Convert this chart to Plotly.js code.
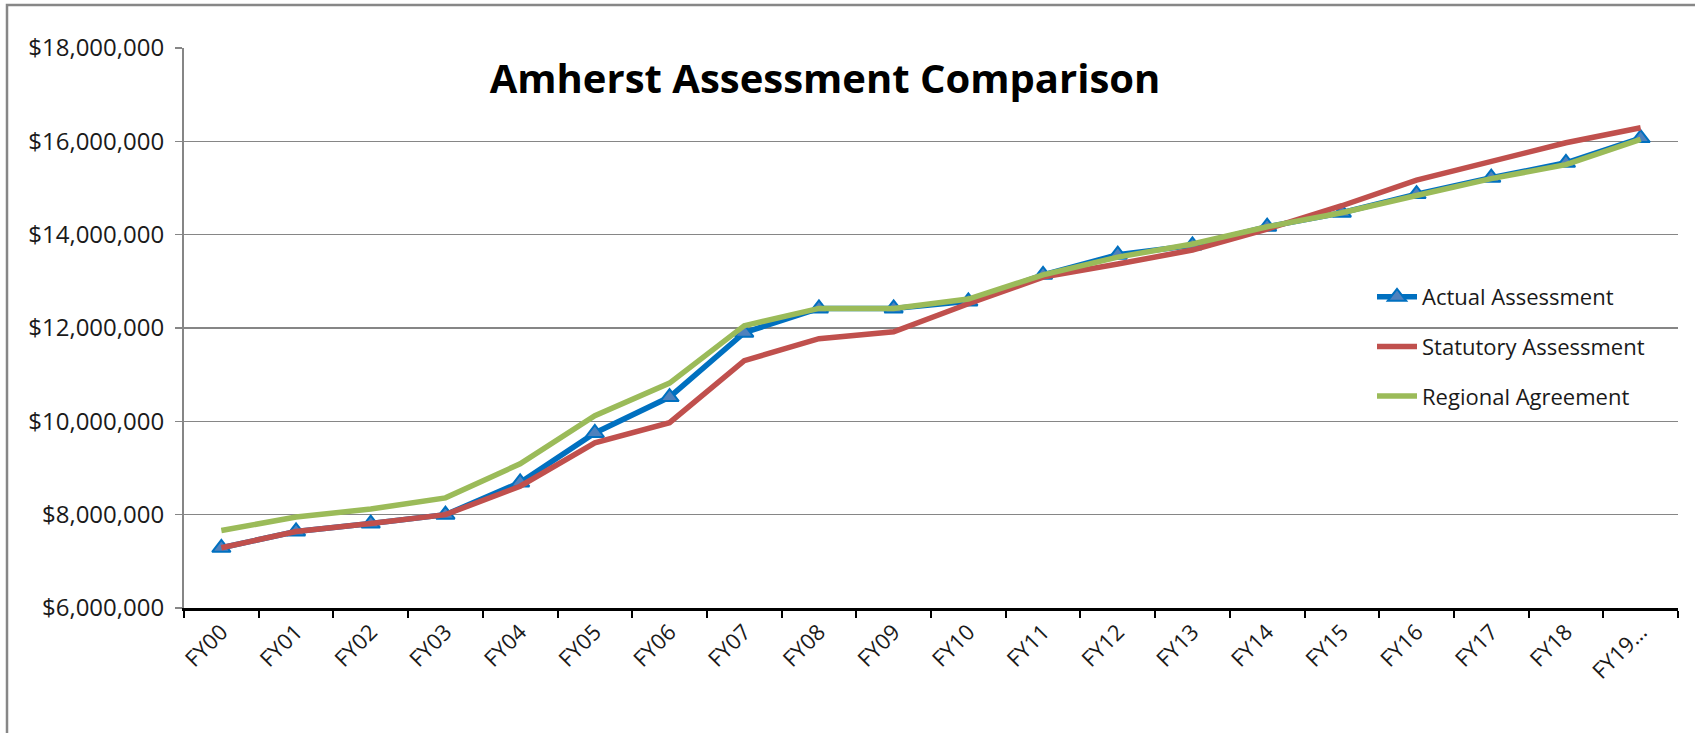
<!DOCTYPE html>
<html>
<head>
<meta charset="utf-8">
<script src="https://cdn.plot.ly/plotly-3.0.1.min.js"></script>
<style>
  html, body { margin: 0; padding: 0; background: #ffffff; }
  #chart { width: 1695px; height: 733px; }
</style>
</head>
<body>
<div id="chart"></div>
<script>
const categories = ["FY00","FY01","FY02","FY03","FY04","FY05","FY06","FY07","FY08","FY09",
                    "FY10","FY11","FY12","FY13","FY14","FY15","FY16","FY17","FY18","FY19…"];

const actualAssessment = [7290000, 7640000, 7810000, 8000000, 8690000, 9750000, 10520000, 11900000, 12420000, 12420000,
                          12570000, 13140000, 13570000, 13770000, 14170000, 14470000, 14870000, 15220000, 15540000, 16070000];

const statutoryAssessment = [7290000, 7640000, 7810000, 8000000, 8610000, 9540000, 9970000, 11300000, 11770000, 11920000,
                             12520000, 13090000, 13370000, 13670000, 14120000, 14620000, 15170000, 15570000, 15970000, 16290000];

const regionalAgreement = [7660000, 7950000, 8120000, 8360000, 9090000, 10120000, 10820000, 12050000, 12420000, 12420000,
                           12620000, 13140000, 13520000, 13800000, 14170000, 14470000, 14840000, 15200000, 15500000, 16040000];

const yTickVals = [6000000, 8000000, 10000000, 12000000, 14000000, 16000000, 18000000];
const yTickText = ["$6,000,000","$8,000,000","$10,000,000","$12,000,000","$14,000,000","$16,000,000","$18,000,000"];

const seriesNames = ["Actual Assessment", "Statutory Assessment", "Regional Agreement"];

const fontFamily = "'Open Sans', 'Liberation Sans', sans-serif";

// plot-area geometry (pixels)
const PL = 184, PR = 1678, PT = 48, PB = 608;
const PW = PR - PL, PH = PB - PT;

const traces = [
  {
    x: categories, y: actualAssessment, name: seriesNames[0], type: "scatter", mode: "lines+markers",
    line: { color: "#0070C0", width: 5.5 },
    marker: { symbol: "triangle-up", size: 16, color: "#4F81BD", line: { color: "#0070C0", width: 2 } },
    legendgroup: "a"
  },
  {
    x: categories, y: statutoryAssessment, name: seriesNames[1], type: "scatter", mode: "lines",
    line: { color: "#C0504D", width: 5.5 },
    legendgroup: "b"
  },
  {
    x: categories, y: regionalAgreement, name: seriesNames[2], type: "scatter", mode: "lines",
    line: { color: "#9BBB59", width: 5.5 },
    legendgroup: "c"
  }
];

const layout = {
  width: 1695, height: 733,
  margin: { l: PL, r: 1695 - PR, t: PT, b: 733 - PB, pad: 0, autoexpand: false },
  paper_bgcolor: "#ffffff", plot_bgcolor: "#ffffff",
  showlegend: true,
  font: { family: fontFamily, size: 22, color: "#1a1a1a" },
  title: {
    text: "<b>Amherst Assessment Comparison</b>",
    font: { family: fontFamily, size: 40, color: "#000000" },
    x: 825 / 1695, xanchor: "center", xref: "container",
    y: 1 - 79 / 733, yanchor: "middle", yref: "container"
  },
  xaxis: {
    type: "category",
    range: [-0.5, 19.5],
    tickson: "boundaries",
    ticks: "outside", ticklen: 7, tickwidth: 2, tickcolor: "#000000",
    showline: true, linecolor: "#000000", linewidth: 2.5,
    showgrid: false, zeroline: false,
    tickangle: -45,
    tickfont: { family: fontFamily, size: 22, color: "#1a1a1a" },
    automargin: false,
    fixedrange: true
  },
  yaxis: {
    range: [6000000, 18000000],
    tickvals: yTickVals, ticktext: yTickText,
    ticks: "outside", ticklen: 7, tickwidth: 1.5, tickcolor: "#868686",
    showline: true, linecolor: "#868686", linewidth: 2,
    showgrid: true, gridcolor: "#868686", gridwidth: 1.5,
    zeroline: false,
    ticklabelstandoff: 6,
    tickfont: { family: fontFamily, size: 24, color: "#1a1a1a" },
    automargin: false,
    fixedrange: true
  },
  legend: {
    x: (1372 - PL) / PW, xref: "paper", xanchor: "left",
    y: (PB - 276) / PH, yref: "paper", yanchor: "top",
    bgcolor: "rgba(0,0,0,0)",
    traceorder: "grouped",
    tracegroupgap: 18,
    font: { family: fontFamily, size: 22, color: "#1a1a1a" },
    itemwidth: 40
  },
  shapes: [
    {
      type: "rect", xref: "paper", yref: "paper",
      x0: (7 - PL) / PW, x1: (1705 - PL) / PW,
      y0: (PB - 745) / PH, y1: (PB - 5) / PH,
      line: { color: "#878787", width: 2.5 }, fillcolor: "rgba(0,0,0,0)", layer: "below"
    }
  ]
};

Plotly.newPlot("chart", traces, layout, { displayModeBar: false, staticPlot: true });
</script>
</body>
</html>
